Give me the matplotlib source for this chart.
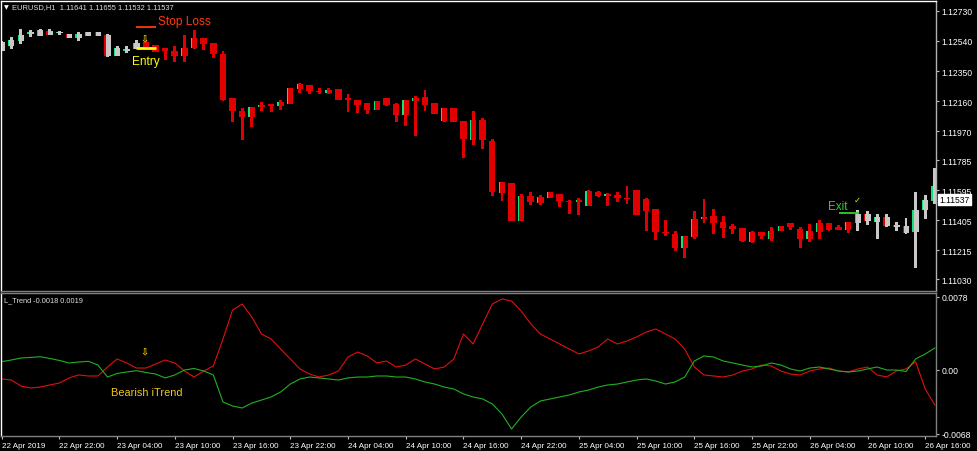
import matplotlib
matplotlib.use("Agg")
import matplotlib.pyplot as plt
import numpy as np

# ---------------- data ----------------
opens = [1.12479,1.12506,1.12538,1.12584,1.12574,1.12603,1.12588,1.12582,1.12562,1.12574,
         1.12599,1.12581,1.12445,1.12475,1.12489,1.12531,1.12513,1.12494,1.12475,1.12447,
         1.12494,1.12559,1.12527,1.12458,1.12177,1.12099,1.12057,1.12124,1.12141,1.12127,
         1.12141,1.12236,1.12261,1.12225,1.12211,1.12234,1.12177,1.12166,1.12146,1.12105,
         1.12177,1.12144,1.12071,1.12158,1.12184,1.12146,1.12032,1.12114,1.12032,1.11915,
         1.12040,1.11907,1.11577,1.11639,1.11402,1.11560,1.11512,1.11546,1.11571,1.11529,
         1.11519,1.11497,1.11586,1.11560,1.11567,1.11546,1.11595,1.11539,1.11476,1.11332,
         1.11318,1.11229,1.11297,1.11413,1.11434,1.11396,1.11367,1.11354,1.11265,1.11329,
         1.11286,1.11339,1.11386,1.11349,1.11286,1.11332,1.11386,1.11365,1.11343,1.11387,
         1.11444,1.11396,1.11424,1.11372,1.11367,1.11329,1.11472,1.11529]
highs = [1.12542,1.12563,1.12616,1.12612,1.12613,1.12616,1.12603,1.12584,1.12595,1.12600,
         1.12600,1.12584,1.12506,1.12506,1.12548,1.12537,1.12515,1.12496,1.12510,1.12580,
         1.12610,1.12562,1.12527,1.12475,1.12182,1.12114,1.12124,1.12156,1.12141,1.12166,
         1.12242,1.12274,1.12264,1.12242,1.12241,1.12236,1.12204,1.12166,1.12147,1.12160,
         1.12179,1.12146,1.12166,1.12190,1.12230,1.12147,1.12116,1.12116,1.12033,1.12099,
         1.12052,1.11919,1.11647,1.11641,1.11571,1.11582,1.11565,1.11584,1.11571,1.11533,
         1.11546,1.11595,1.11588,1.11577,1.11586,1.11624,1.11596,1.11546,1.11476,1.11406,
         1.11339,1.11305,1.11465,1.11539,1.11476,1.11430,1.11381,1.11356,1.11339,1.11331,
         1.11362,1.11368,1.11387,1.11360,1.11381,1.11408,1.11387,1.11375,1.11396,1.11470,
         1.11465,1.11444,1.11444,1.11396,1.11417,1.11586,1.11565,1.11736]
lows = [1.12477,1.12489,1.12521,1.12563,1.12572,1.12578,1.12578,1.12561,1.12542,1.12572,
        1.12572,1.12441,1.12443,1.12464,1.12489,1.12496,1.12469,1.12422,1.12409,1.12409,
        1.12489,1.12483,1.12432,1.12162,1.12029,1.11915,1.11994,1.12099,1.12089,1.12103,
        1.12139,1.12211,1.12204,1.12204,1.12204,1.12166,1.12089,1.12084,1.12078,1.12103,
        1.12130,1.12029,1.12004,1.11940,1.12099,1.12075,1.12027,1.12024,1.11799,1.11881,
        1.11856,1.11560,1.11529,1.11397,1.11400,1.11501,1.11503,1.11544,1.11491,1.11444,
        1.11438,1.11495,1.11554,1.11493,1.11519,1.11508,1.11436,1.11339,1.11280,1.11307,
        1.11212,1.11166,1.11286,1.11385,1.11318,1.11290,1.11318,1.11270,1.11261,1.11286,
        1.11275,1.11337,1.11345,1.11231,1.11265,1.11286,1.11339,1.11343,1.11324,1.11339,
        1.11375,1.11286,1.11360,1.11339,1.11318,1.11100,1.11413,1.11508]
closes = [1.12536,1.12548,1.12580,1.12597,1.12610,1.12581,1.12594,1.12562,1.12584,1.12599,
          1.12574,1.12443,1.12493,1.12491,1.12527,1.12500,1.12470,1.12475,1.12443,1.12496,
          1.12559,1.12521,1.12458,1.12166,1.12099,1.12057,1.12120,1.12128,1.12127,1.12152,
          1.12242,1.12268,1.12222,1.12215,1.12232,1.12166,1.12168,1.12137,1.12105,1.12158,
          1.12132,1.12071,1.12166,1.12179,1.12135,1.12078,1.12114,1.12025,1.11919,1.12042,
          1.11913,1.11586,1.11645,1.11398,1.11560,1.11519,1.11550,1.11582,1.11529,1.11519,
          1.11533,1.11592,1.11557,1.11571,1.11546,1.11539,1.11438,1.11465,1.11329,1.11324,
          1.11229,1.11303,1.11413,1.11425,1.11387,1.11354,1.11349,1.11272,1.11329,1.11303,
          1.11339,1.11367,1.11362,1.11286,1.11339,1.11387,1.11343,1.11346,1.11392,1.11444,
          1.11402,1.11424,1.11367,1.11365,1.11324,1.11472,1.11535,1.11622]
# trend colour of each bar: 'g' = grey (neutral), 'r' = red (bearish)
trend = ['g'] * 15 + ['r'] * 74 + ['g'] * 9

itrend_red = [-0.00096,-0.00107,-0.00171,-0.00192,-0.00182,-0.00160,-0.00139,-0.00085,-0.00053,-0.00064,
              -0.00064,0.00032,0.00118,0.00075,0.00021,0.00021,0.00064,0.00107,0.00075,-0.00011,
              -0.00075,-0.00011,0.00043,0.00331,0.00641,0.00705,0.00566,0.00385,0.00331,0.00224,
              0.00118,0.00011,-0.00043,-0.00075,-0.00053,-0.00011,0.00139,0.00192,0.00150,0.00075,
              0.00096,0.00032,0.00053,0.00118,0.00064,0.00011,0.00032,0.00118,0.00385,0.00278,
              0.00492,0.00705,0.00759,0.00737,0.00630,0.00492,0.00385,0.00331,0.00278,0.00224,
              0.00171,0.00203,0.00246,0.00331,0.00278,0.00310,0.00353,0.00406,0.00438,0.00385,
              0.00331,0.00224,0.00032,-0.00053,-0.00064,-0.00075,-0.00053,-0.00011,0.00011,0.00053,
              0.00043,-0.00011,-0.00043,-0.00053,-0.00011,0.00011,0.00021,-0.00011,-0.00021,0.00011,
              0.00032,-0.00053,-0.00075,-0.00011,0.00011,0.00089,-0.00203,-0.00374]
itrend_green = [0.00089,0.00107,0.00128,0.00134,0.00142,0.00123,0.00102,0.00075,0.00085,0.00093,
                0.00053,-0.00075,-0.00037,-0.00021,-0.00007,-0.00027,-0.00043,-0.00085,-0.00053,0.00000,
                0.00016,-0.00011,-0.00053,-0.00342,-0.00385,-0.00406,-0.00353,-0.00321,-0.00288,-0.00235,
                -0.00150,-0.00096,-0.00075,-0.00085,-0.00096,-0.00107,-0.00085,-0.00075,-0.00075,-0.00064,
                -0.00064,-0.00075,-0.00075,-0.00096,-0.00128,-0.00150,-0.00182,-0.00203,-0.00256,-0.00288,
                -0.00310,-0.00363,-0.00470,-0.00630,-0.00502,-0.00395,-0.00331,-0.00310,-0.00288,-0.00267,
                -0.00235,-0.00214,-0.00182,-0.00160,-0.00150,-0.00128,-0.00107,-0.00096,-0.00118,-0.00150,
                -0.00128,-0.00075,0.00096,0.00150,0.00139,0.00096,0.00075,0.00053,0.00032,0.00043,
                0.00075,0.00053,0.00011,-0.00011,0.00021,0.00032,0.00011,-0.00011,-0.00021,-0.00011,
                0.00011,0.00032,0.00000,0.00000,-0.00016,0.00118,0.00171,0.00235]

price_ticks = [1.12730, 1.12540, 1.12350, 1.12160, 1.11970, 1.11785, 1.11595, 1.11405, 1.11215, 1.11030]
ind_ticks = [0.0078, 0.0, -0.0068]
ind_tick_labels = ['0.0078', '0.00', '-0.0068']
time_labels = ['22 Apr 2019', '22 Apr 22:00', '23 Apr 04:00', '23 Apr 10:00', '23 Apr 16:00',
               '23 Apr 22:00', '24 Apr 04:00', '24 Apr 10:00', '24 Apr 16:00', '24 Apr 22:00',
               '25 Apr 04:00', '25 Apr 10:00', '25 Apr 16:00', '25 Apr 22:00', '26 Apr 04:00',
               '26 Apr 10:00', '26 Apr 16:00']
time_label_step = 6
last_price = 1.11537
header = "EURUSD,H1  1.11641 1.11655 1.11532 1.11537"
ind_header = "L_Trend -0.0018 0.0019"

stop_loss = 1.12629
entry = 1.12496
exit_price = 1.11449
signal_bar = 14.9
exit_bar = 88.9

# ---------------- styling ----------------
W, H = 977, 452
RED = '#e00000'
GREY = '#c8c8c8'
GREEN_EDGE = '#19e07a'
FONT = 'Liberation Sans'
plt.rcParams['font.family'] = [FONT, 'DejaVu Sans']

fig = plt.figure(figsize=(W / 100, H / 100), dpi=100, facecolor='black')
ax = fig.add_axes([1 / W, 1 - 292 / H, 935 / W, 290 / H], facecolor='black')
ax2 = fig.add_axes([1 / W, 1 - 437 / H, 935 / W, 143 / H], facecolor='black')

n = len(closes)
x = np.arange(n)
o = np.array(opens); c = np.array(closes); h = np.array(highs); l = np.array(lows)
fill = [RED if t == 'r' else GREY for t in trend]
body_lo = np.minimum(o, c)
body_h = np.maximum(np.abs(c - o), 0.00009)
bull = c >= o

# wicks
ax.bar(x, h - l, bottom=l, width=0.3, color=fill, linewidth=0)
# bodies
ax.bar(x, body_h, bottom=body_lo, width=0.66, color=fill, linewidth=0)
# edge strips showing candle direction
edge_cols = [GREEN_EDGE if b else RED for b in bull]
ax.bar(x - 0.28, body_h, bottom=body_lo, width=0.14, color=edge_cols, linewidth=0)

ax.set_xlim(-0.073, 97.12)
ax.set_ylim(1.109568, 1.127933)
ax2.set_xlim(-0.073, 97.12)
ax2.set_ylim(-0.007052, 0.008227)

# indicator
ax2.plot(x, itrend_red, color='#e01010', lw=0.8)
ax2.plot(x, itrend_green, color='#22b022', lw=0.8)

# spines
for a in (ax, ax2):
    for s in a.spines.values():
        s.set_linewidth(1.0)
ax.spines['top'].set_color('#ffffff')
ax.spines['left'].set_color('#ffffff')
ax.spines['right'].set_color('#b0b0b0')
ax.spines['bottom'].set_color('#808080')
ax2.spines['top'].set_color('#808080')
ax2.spines['left'].set_color('#ffffff')
ax2.spines['right'].set_color('#808080')
ax2.spines['bottom'].set_color('#808080')

# price axis
ax.yaxis.tick_right()
ax.set_yticks(price_ticks)
ax.set_yticklabels([f"{p:.5f}" for p in price_ticks])
ax.tick_params(axis='y', colors='#c0c0c0', labelcolor='white', labelsize=6.2,
               length=2.5, width=0.8, pad=1.5)
ax.set_xticks([])

ax2.yaxis.tick_right()
ax2.set_yticks(ind_ticks)
ax2.set_yticklabels(ind_tick_labels)
ax2.tick_params(axis='y', colors='#c0c0c0', labelcolor='white', labelsize=6.2,
                length=2.5, width=0.8, pad=1.5)
tpos = np.arange(len(time_labels)) * time_label_step
ax2.set_xticks(tpos)
ax2.set_xticklabels(time_labels)
for lab in ax2.get_xticklabels():
    lab.set_horizontalalignment('left')
ax2.tick_params(axis='x', colors='#c0c0c0', labelcolor='white', labelsize=5.8,
                length=2.5, width=0.8, pad=1.5)

# current price box
ax.annotate(f"{last_price:.5f}", xy=(1.0, last_price), xycoords=('axes fraction', 'data'),
            xytext=(2.2, 0), textcoords='offset points', va='center', ha='left',
            fontsize=6.2, color='black',
            bbox=dict(boxstyle='square,pad=0.15', fc='white', ec='white'))

# header texts
fig.text(4 / W, 1 - 7.5 / H, "\u25BC", color='white', fontsize=4.5, va='center', ha='left',
         family='DejaVu Sans')
fig.text(12.5 / W, 1 - 7.5 / H, header, color='#e0e0e0', fontsize=5.4, va='center', ha='left')
fig.text(4 / W, 1 - 300.5 / H, ind_header, color='#e0e0e0', fontsize=5.3, va='center', ha='left')

# trade annotations
ax.hlines(stop_loss, 13.96, 16.04, color='#ff3b10', lw=1.3)
ax.text(16.25, stop_loss + 0.00038, "Stop Loss", color='#ff3b10', fontsize=8.6,
        va='center', ha='left')
ax.hlines(entry, 13.96, 16.04, color='#ffff00', lw=2.0)
ax.text(13.55, entry - 0.00083, "Entry", color='#ffff00', fontsize=8.6, va='center', ha='left')
ax.text(signal_bar, 1.12565, "\u21E9", color='#e6c800', fontsize=7, va='center',
        ha='center', family='DejaVu Sans', fontweight='bold')
ax.hlines(exit_price, 87.0, 89.1, color='#33cc33', lw=1.3)
ax.text(86.9, exit_price + 0.00043, "Exit", color='#33cc33', fontsize=8.4, va='center',
        ha='center')
ax.text(exit_bar, exit_price + 0.00085, "\u2713", color='#e6e600', fontsize=6, va='center',
        ha='center', family='DejaVu Sans')

ax2.text(signal_bar, 0.00214, "\u21E9", color='#e6c800', fontsize=7, va='center',
         ha='center', family='DejaVu Sans', fontweight='bold')
ax2.text(15.1, -0.00235, "Bearish iTrend", color='#f0c814', fontsize=7.9, va='center',
         ha='center')

fig.savefig('out.png', dpi=100, facecolor='black')
